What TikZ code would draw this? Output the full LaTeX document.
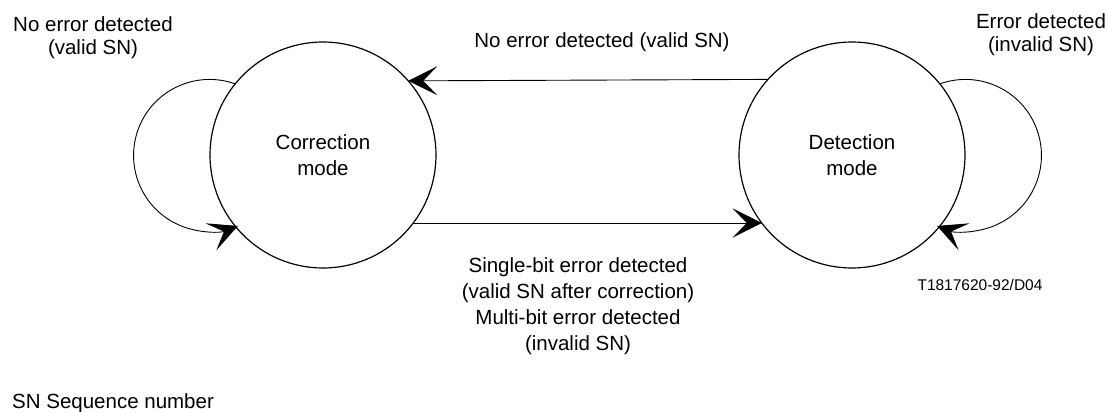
\documentclass[tikz,border=0pt]{standalone}
\usepackage{fontspec}
\setmainfont{Liberation Sans}
\usetikzlibrary{arrows.meta}
\begin{document}
\begin{tikzpicture}[x=1pt,y=-1pt,
  state/.style={circle, draw, line width=1.2pt, minimum size=226pt, inner sep=0pt, outer sep=0pt,
    font=\fontsize{20.5}{26}\selectfont, align=center},
  conn/.style={line width=0.9pt, -{Stealth[length=29pt,width=29pt,inset=14pt]}},
  lbl/.style={font=\fontsize{20.5}{23.5}\selectfont, align=center, inner sep=0pt, anchor=base},
]
\useasboundingbox (0,0) rectangle (1109,412);
\node[state] (C) at (323,155) {Correction\\mode};
\node[state] (D) at (852,155) {Detection\\mode};
\draw[conn] (D.138.4) -- (C.41.6);
\draw[conn] (C.-37) -- (D.-143);
\draw[conn] (C.141) arc[start angle=-70.3, end angle=-291.9, radius=76];
\draw[conn] (D.39) arc[start angle=-109.7, end angle=111.9, radius=76];
\node[lbl] (l1) at (93,55) {No error detected\\(valid SN)};
\node[lbl] (l2) at (602,48) {No error detected (valid SN)};
\node[lbl] (l3) at (1041,52) {Error detected\\(invalid SN)};
\node[lbl, font=\fontsize{20.5}{26}\selectfont] (l4) at (578,350)
  {Single-bit error detected\\(valid SN after correction)\\Multi-bit error detected\\(invalid SN)};
\node[lbl, font=\fontsize{15.5}{18}\selectfont] (code) at (980,290) {T1817620-92/D04};
\node[lbl, anchor=base west] (sn) at (12,408) {SN Sequence number};
\end{tikzpicture}
\end{document}
